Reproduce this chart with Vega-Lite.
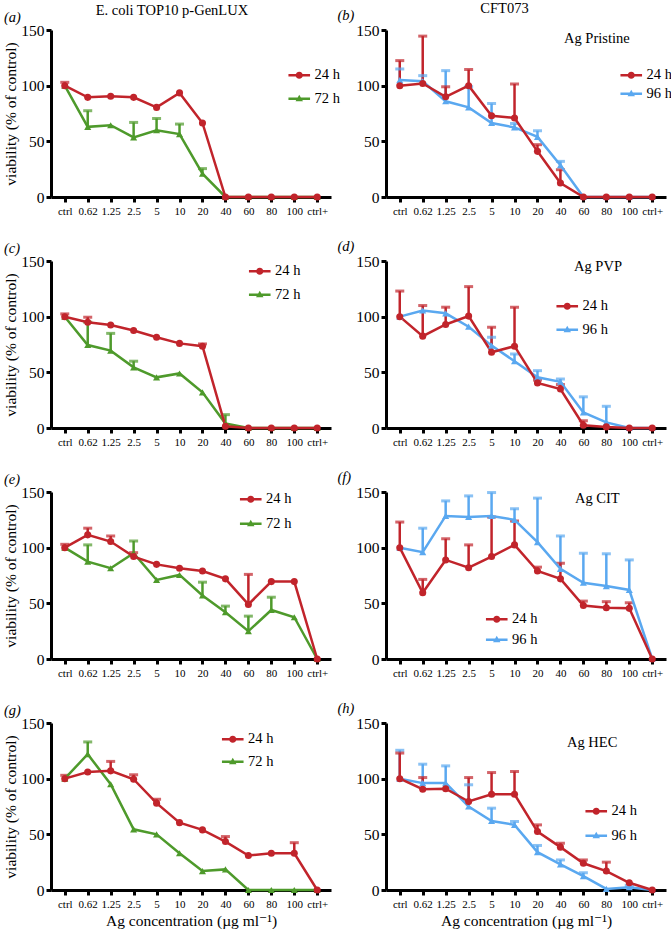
{
"$schema":"https://vega.github.io/schema/vega-lite/v6.json",
"padding":{"left":3,"top":0,"right":0,"bottom":0},
"datasets":{"d":[
{"p":"a","t":"72 h","c":"ctrl","v":100},{"p":"a","t":"72 h","c":"0.62","v":63,"e":77.5},{"p":"a","t":"72 h","c":"1.25","v":64.5},{"p":"a","t":"72 h","c":"2.5","v":53.5,"e":67},{"p":"a","t":"72 h","c":"5","v":60,"e":70.5},{"p":"a","t":"72 h","c":"10","v":56.5,"e":65.5},{"p":"a","t":"72 h","c":"20","v":21,"e":25.5},{"p":"a","t":"72 h","c":"40","v":0},{"p":"a","t":"72 h","c":"60","v":0},{"p":"a","t":"72 h","c":"80","v":0},{"p":"a","t":"72 h","c":"100","v":0},{"p":"a","t":"72 h","c":"ctrl+","v":0},
{"p":"a","t":"24 h","c":"ctrl","v":100,"e":103},{"p":"a","t":"24 h","c":"0.62","v":89.5},{"p":"a","t":"24 h","c":"1.25","v":90.5},{"p":"a","t":"24 h","c":"2.5","v":89.5},{"p":"a","t":"24 h","c":"5","v":80.5},{"p":"a","t":"24 h","c":"10","v":93.5},{"p":"a","t":"24 h","c":"20","v":66.5},{"p":"a","t":"24 h","c":"40","v":0},{"p":"a","t":"24 h","c":"60","v":0},{"p":"a","t":"24 h","c":"80","v":0},{"p":"a","t":"24 h","c":"100","v":0},{"p":"a","t":"24 h","c":"ctrl+","v":0},
{"p":"b","t":"96 h","c":"ctrl","v":105,"e":115},{"p":"b","t":"96 h","c":"0.62","v":104,"e":109},{"p":"b","t":"96 h","c":"1.25","v":86,"e":113.5},{"p":"b","t":"96 h","c":"2.5","v":80.5,"e":99},{"p":"b","t":"96 h","c":"5","v":66.5,"e":84},{"p":"b","t":"96 h","c":"10","v":62.5,"e":66},{"p":"b","t":"96 h","c":"20","v":54,"e":59.5},{"p":"b","t":"96 h","c":"40","v":28.5,"e":32},{"p":"b","t":"96 h","c":"60","v":0},{"p":"b","t":"96 h","c":"80","v":0},{"p":"b","t":"96 h","c":"100","v":0},{"p":"b","t":"96 h","c":"ctrl+","v":0},
{"p":"b","t":"24 h","c":"ctrl","v":100,"e":122.5},{"p":"b","t":"24 h","c":"0.62","v":102,"e":144.5},{"p":"b","t":"24 h","c":"1.25","v":90,"e":99},{"p":"b","t":"24 h","c":"2.5","v":100,"e":114.5},{"p":"b","t":"24 h","c":"5","v":73},{"p":"b","t":"24 h","c":"10","v":71,"e":101.5},{"p":"b","t":"24 h","c":"20","v":41,"e":47},{"p":"b","t":"24 h","c":"40","v":12.5,"e":24.5},{"p":"b","t":"24 h","c":"60","v":0},{"p":"b","t":"24 h","c":"80","v":0},{"p":"b","t":"24 h","c":"100","v":0},{"p":"b","t":"24 h","c":"ctrl+","v":0},
{"p":"c","t":"72 h","c":"ctrl","v":100},{"p":"c","t":"72 h","c":"0.62","v":74.5,"e":95},{"p":"c","t":"72 h","c":"1.25","v":69.5,"e":85},{"p":"c","t":"72 h","c":"2.5","v":54.5,"e":60},{"p":"c","t":"72 h","c":"5","v":45.5},{"p":"c","t":"72 h","c":"10","v":49},{"p":"c","t":"72 h","c":"20","v":32},{"p":"c","t":"72 h","c":"40","v":4,"e":12},{"p":"c","t":"72 h","c":"60","v":0},{"p":"c","t":"72 h","c":"80","v":0},{"p":"c","t":"72 h","c":"100","v":0},{"p":"c","t":"72 h","c":"ctrl+","v":0},
{"p":"c","t":"24 h","c":"ctrl","v":100,"e":102.5},{"p":"c","t":"24 h","c":"0.62","v":95,"e":99.5},{"p":"c","t":"24 h","c":"1.25","v":92.5},{"p":"c","t":"24 h","c":"2.5","v":87.5},{"p":"c","t":"24 h","c":"5","v":81.5},{"p":"c","t":"24 h","c":"10","v":76},{"p":"c","t":"24 h","c":"20","v":73.5,"e":75.5},{"p":"c","t":"24 h","c":"40","v":1.5},{"p":"c","t":"24 h","c":"60","v":0},{"p":"c","t":"24 h","c":"80","v":0},{"p":"c","t":"24 h","c":"100","v":0},{"p":"c","t":"24 h","c":"ctrl+","v":0},
{"p":"d","t":"96 h","c":"ctrl","v":100},{"p":"d","t":"96 h","c":"0.62","v":105.5},{"p":"d","t":"96 h","c":"1.25","v":103},{"p":"d","t":"96 h","c":"2.5","v":91},{"p":"d","t":"96 h","c":"5","v":74,"e":81.5},{"p":"d","t":"96 h","c":"10","v":60,"e":66.5},{"p":"d","t":"96 h","c":"20","v":45.5,"e":51.5},{"p":"d","t":"96 h","c":"40","v":41.5,"e":44},{"p":"d","t":"96 h","c":"60","v":14,"e":28},{"p":"d","t":"96 h","c":"80","v":5,"e":19.5},{"p":"d","t":"96 h","c":"100","v":0},{"p":"d","t":"96 h","c":"ctrl+","v":0},
{"p":"d","t":"24 h","c":"ctrl","v":100,"e":123},{"p":"d","t":"24 h","c":"0.62","v":82.5,"e":110},{"p":"d","t":"24 h","c":"1.25","v":93,"e":108.5},{"p":"d","t":"24 h","c":"2.5","v":100.5,"e":127},{"p":"d","t":"24 h","c":"5","v":68,"e":90.5},{"p":"d","t":"24 h","c":"10","v":73.5,"e":108.5},{"p":"d","t":"24 h","c":"20","v":40.5,"e":43},{"p":"d","t":"24 h","c":"40","v":35,"e":39},{"p":"d","t":"24 h","c":"60","v":2.5,"e":6.5},{"p":"d","t":"24 h","c":"80","v":1},{"p":"d","t":"24 h","c":"100","v":0},{"p":"d","t":"24 h","c":"ctrl+","v":0},
{"p":"e","t":"72 h","c":"ctrl","v":100},{"p":"e","t":"72 h","c":"0.62","v":87.5,"e":102.5},{"p":"e","t":"72 h","c":"1.25","v":81.5},{"p":"e","t":"72 h","c":"2.5","v":95,"e":106},{"p":"e","t":"72 h","c":"5","v":71},{"p":"e","t":"72 h","c":"10","v":75.5},{"p":"e","t":"72 h","c":"20","v":57,"e":69},{"p":"e","t":"72 h","c":"40","v":42,"e":47.5},{"p":"e","t":"72 h","c":"60","v":25,"e":38.5},{"p":"e","t":"72 h","c":"80","v":44,"e":55.5},{"p":"e","t":"72 h","c":"100","v":37.5},{"p":"e","t":"72 h","c":"ctrl+","v":0},
{"p":"e","t":"24 h","c":"ctrl","v":100,"e":103},{"p":"e","t":"24 h","c":"0.62","v":111.5,"e":117.5},{"p":"e","t":"24 h","c":"1.25","v":105.5,"e":110.5},{"p":"e","t":"24 h","c":"2.5","v":92,"e":95.5},{"p":"e","t":"24 h","c":"5","v":85},{"p":"e","t":"24 h","c":"10","v":81.5},{"p":"e","t":"24 h","c":"20","v":79},{"p":"e","t":"24 h","c":"40","v":72},{"p":"e","t":"24 h","c":"60","v":49,"e":76},{"p":"e","t":"24 h","c":"80","v":69.5},{"p":"e","t":"24 h","c":"100","v":69.5},{"p":"e","t":"24 h","c":"ctrl+","v":0},
{"p":"f","t":"96 h","c":"ctrl","v":100},{"p":"f","t":"96 h","c":"0.62","v":96,"e":117.5},{"p":"f","t":"96 h","c":"1.25","v":128.5,"e":142},{"p":"f","t":"96 h","c":"2.5","v":127.5,"e":146.5},{"p":"f","t":"96 h","c":"5","v":128.5,"e":149.5},{"p":"f","t":"96 h","c":"10","v":125,"e":135},{"p":"f","t":"96 h","c":"20","v":105,"e":144.5},{"p":"f","t":"96 h","c":"40","v":81,"e":110.5},{"p":"f","t":"96 h","c":"60","v":68.5,"e":95},{"p":"f","t":"96 h","c":"80","v":65.5,"e":94.5},{"p":"f","t":"96 h","c":"100","v":62,"e":89},{"p":"f","t":"96 h","c":"ctrl+","v":0},
{"p":"f","t":"24 h","c":"ctrl","v":100,"e":123},{"p":"f","t":"24 h","c":"0.62","v":59.5,"e":71.5},{"p":"f","t":"24 h","c":"1.25","v":89,"e":108},{"p":"f","t":"24 h","c":"2.5","v":82,"e":102.5},{"p":"f","t":"24 h","c":"5","v":92,"e":127.5},{"p":"f","t":"24 h","c":"10","v":102.5,"e":124},{"p":"f","t":"24 h","c":"20","v":79,"e":82.5},{"p":"f","t":"24 h","c":"40","v":72,"e":86},{"p":"f","t":"24 h","c":"60","v":48,"e":52},{"p":"f","t":"24 h","c":"80","v":46,"e":51.5},{"p":"f","t":"24 h","c":"100","v":45.5,"e":50.5},{"p":"f","t":"24 h","c":"ctrl+","v":0},
{"p":"g","t":"72 h","c":"ctrl","v":100},{"p":"g","t":"72 h","c":"0.62","v":122,"e":133},{"p":"g","t":"72 h","c":"1.25","v":95},{"p":"g","t":"72 h","c":"2.5","v":54.5},{"p":"g","t":"72 h","c":"5","v":50},{"p":"g","t":"72 h","c":"10","v":33},{"p":"g","t":"72 h","c":"20","v":17},{"p":"g","t":"72 h","c":"40","v":18.5},{"p":"g","t":"72 h","c":"60","v":0},{"p":"g","t":"72 h","c":"80","v":0},{"p":"g","t":"72 h","c":"100","v":0},{"p":"g","t":"72 h","c":"ctrl+","v":0},
{"p":"g","t":"24 h","c":"ctrl","v":100,"e":103},{"p":"g","t":"24 h","c":"0.62","v":106},{"p":"g","t":"24 h","c":"1.25","v":107,"e":115.5},{"p":"g","t":"24 h","c":"2.5","v":99.5,"e":103.5},{"p":"g","t":"24 h","c":"5","v":78,"e":81.5},{"p":"g","t":"24 h","c":"10","v":60.5},{"p":"g","t":"24 h","c":"20","v":54},{"p":"g","t":"24 h","c":"40","v":43.5,"e":48},{"p":"g","t":"24 h","c":"60","v":31},{"p":"g","t":"24 h","c":"80","v":33},{"p":"g","t":"24 h","c":"100","v":33,"e":42.5},{"p":"g","t":"24 h","c":"ctrl+","v":0},
{"p":"h","t":"96 h","c":"ctrl","v":100,"e":125.5},{"p":"h","t":"96 h","c":"0.62","v":96,"e":113},{"p":"h","t":"96 h","c":"1.25","v":96,"e":111.5},{"p":"h","t":"96 h","c":"2.5","v":75,"e":94.5},{"p":"h","t":"96 h","c":"5","v":62,"e":73.5},{"p":"h","t":"96 h","c":"10","v":58.5,"e":61.5},{"p":"h","t":"96 h","c":"20","v":34,"e":40},{"p":"h","t":"96 h","c":"40","v":23,"e":27},{"p":"h","t":"96 h","c":"60","v":12.5,"e":15.5},{"p":"h","t":"96 h","c":"80","v":1},{"p":"h","t":"96 h","c":"100","v":2.5,"e":4},{"p":"h","t":"96 h","c":"ctrl+","v":0},
{"p":"h","t":"24 h","c":"ctrl","v":100,"e":123},{"p":"h","t":"24 h","c":"0.62","v":90.5,"e":101},{"p":"h","t":"24 h","c":"1.25","v":91},{"p":"h","t":"24 h","c":"2.5","v":79.5,"e":101},{"p":"h","t":"24 h","c":"5","v":86,"e":105.5},{"p":"h","t":"24 h","c":"10","v":86,"e":106.5},{"p":"h","t":"24 h","c":"20","v":52.5,"e":58.5},{"p":"h","t":"24 h","c":"40","v":38.5,"e":42},{"p":"h","t":"24 h","c":"60","v":24,"e":27},{"p":"h","t":"24 h","c":"80","v":17,"e":25},{"p":"h","t":"24 h","c":"100","v":6.5},{"p":"h","t":"24 h","c":"ctrl+","v":0}
]},
"resolve":{"scale":{"color":"independent","x":"independent","y":"independent"},"legend":{"color":"independent"}},
"spacing":-3,
"hconcat":[
{"title":{"text":"E. coli TOP10 p-GenLUX","anchor":"middle","offset":-9},
 "bounds":"flush",
 "spacing":64,
 "resolve":{"scale":{"color":"independent","x":"independent","y":"independent"},"legend":{"color":"independent"}},
 "vconcat":[
 {"width":280,"height":167,"title":{"text":"(a)","anchor":"start","frame":"group","dx":-47,"fontStyle":"italic","offset":-2},
  "data":{"name":"d"},
  "encoding":{"x":{"field":"c","type":"ordinal","scale":{"type":"point","domain":["ctrl","0.62","1.25","2.5","5","10","20","40","60","80","100","ctrl+"],"padding":0.6},"axis":{"title":null}},
   "y":{"field":"v","type":"quantitative","scale":{"domain":[0,150]},"axis":{"values":[0,50,100,150]},"title":"viability (% of control)"},
   "color":{"field":"t","type":"nominal","scale":{"domain":["24 h","72 h"],"range":["#C1242B","#4E9A2B"]},
    "legend":{"orient":"none","legendX":241,"legendY":38,"title":null,"labelOffset":8,"rowPadding":8.5,"symbolSize":144,"symbolStrokeWidth":0,
     "encode":{"symbols":{"update":{"shape":{"signal":"datum.value == '24 h' ? 'M-1.8,-0.2L1.8,-0.2L1.8,0.2L-1.8,0.2Z M0.6,0A0.6,0.6 0 1,1 -0.6,0A0.6,0.6 0 1,1 0.6,0Z' : 'M-1.8,-0.2L1.8,-0.2L1.8,0.2L-1.8,0.2Z M0,-0.65L0.62,0.4L-0.62,0.4Z'"}}}}}}},
  "layer":[
   {"transform":[{"filter":"datum.p == 'a' && isValid(datum.e)"}],"mark":{"type":"rule","strokeWidth":2.5},"encoding":{"y2":{"field":"e"}}},
   {"transform":[{"filter":"datum.p == 'a' && isValid(datum.e)"}],"mark":{"type":"tick","orient":"horizontal","size":9,"thickness":3},"encoding":{"y":{"field":"e","type":"quantitative","title":"viability (% of control)"}}},
   {"transform":[{"filter":"datum.p == 'a'"}],"mark":{"type":"line","strokeWidth":2.5},"encoding":{"order":{"value":null}}},
   {"transform":[{"filter":"datum.p == 'a' && datum.t != '24 h'"}],"mark":{"type":"point","shape":"triangle-up","filled":true,"size":50,"opacity":1}},
   {"transform":[{"filter":"datum.p == 'a' && datum.t == '24 h'"}],"mark":{"type":"point","shape":"circle","filled":true,"size":50,"opacity":1}}
  ]},
 {"width":280,"height":167,"title":{"text":"(c)","anchor":"start","frame":"group","dx":-47,"fontStyle":"italic","offset":-2},
  "data":{"name":"d"},
  "encoding":{"x":{"field":"c","type":"ordinal","scale":{"type":"point","domain":["ctrl","0.62","1.25","2.5","5","10","20","40","60","80","100","ctrl+"],"padding":0.6},"axis":{"title":null}},
   "y":{"field":"v","type":"quantitative","scale":{"domain":[0,150]},"axis":{"values":[0,50,100,150]},"title":"viability (% of control)"},
   "color":{"field":"t","type":"nominal","scale":{"domain":["24 h","72 h"],"range":["#C1242B","#4E9A2B"]},
    "legend":{"orient":"none","legendX":201.5,"legendY":3,"title":null,"labelOffset":8,"rowPadding":8.5,"symbolSize":144,"symbolStrokeWidth":0,
     "encode":{"symbols":{"update":{"shape":{"signal":"datum.value == '24 h' ? 'M-1.8,-0.2L1.8,-0.2L1.8,0.2L-1.8,0.2Z M0.6,0A0.6,0.6 0 1,1 -0.6,0A0.6,0.6 0 1,1 0.6,0Z' : 'M-1.8,-0.2L1.8,-0.2L1.8,0.2L-1.8,0.2Z M0,-0.65L0.62,0.4L-0.62,0.4Z'"}}}}}}},
  "layer":[
   {"transform":[{"filter":"datum.p == 'c' && isValid(datum.e)"}],"mark":{"type":"rule","strokeWidth":2.5},"encoding":{"y2":{"field":"e"}}},
   {"transform":[{"filter":"datum.p == 'c' && isValid(datum.e)"}],"mark":{"type":"tick","orient":"horizontal","size":9,"thickness":3},"encoding":{"y":{"field":"e","type":"quantitative","title":"viability (% of control)"}}},
   {"transform":[{"filter":"datum.p == 'c'"}],"mark":{"type":"line","strokeWidth":2.5},"encoding":{"order":{"value":null}}},
   {"transform":[{"filter":"datum.p == 'c' && datum.t != '24 h'"}],"mark":{"type":"point","shape":"triangle-up","filled":true,"size":50,"opacity":1}},
   {"transform":[{"filter":"datum.p == 'c' && datum.t == '24 h'"}],"mark":{"type":"point","shape":"circle","filled":true,"size":50,"opacity":1}}
  ]},
 {"width":280,"height":167,"title":{"text":"(e)","anchor":"start","frame":"group","dx":-47,"fontStyle":"italic","offset":-2},
  "data":{"name":"d"},
  "encoding":{"x":{"field":"c","type":"ordinal","scale":{"type":"point","domain":["ctrl","0.62","1.25","2.5","5","10","20","40","60","80","100","ctrl+"],"padding":0.6},"axis":{"title":null}},
   "y":{"field":"v","type":"quantitative","scale":{"domain":[0,150]},"axis":{"values":[0,50,100,150]},"title":"viability (% of control)"},
   "color":{"field":"t","type":"nominal","scale":{"domain":["24 h","72 h"],"range":["#C1242B","#4E9A2B"]},
    "legend":{"orient":"none","legendX":192.5,"legendY":0,"title":null,"labelOffset":8,"rowPadding":9.5,"symbolSize":144,"symbolStrokeWidth":0,
     "encode":{"symbols":{"update":{"shape":{"signal":"datum.value == '24 h' ? 'M-1.8,-0.2L1.8,-0.2L1.8,0.2L-1.8,0.2Z M0.6,0A0.6,0.6 0 1,1 -0.6,0A0.6,0.6 0 1,1 0.6,0Z' : 'M-1.8,-0.2L1.8,-0.2L1.8,0.2L-1.8,0.2Z M0,-0.65L0.62,0.4L-0.62,0.4Z'"}}}}}}},
  "layer":[
   {"transform":[{"filter":"datum.p == 'e' && isValid(datum.e)"}],"mark":{"type":"rule","strokeWidth":2.5},"encoding":{"y2":{"field":"e"}}},
   {"transform":[{"filter":"datum.p == 'e' && isValid(datum.e)"}],"mark":{"type":"tick","orient":"horizontal","size":9,"thickness":3},"encoding":{"y":{"field":"e","type":"quantitative","title":"viability (% of control)"}}},
   {"transform":[{"filter":"datum.p == 'e'"}],"mark":{"type":"line","strokeWidth":2.5},"encoding":{"order":{"value":null}}},
   {"transform":[{"filter":"datum.p == 'e' && datum.t != '24 h'"}],"mark":{"type":"point","shape":"triangle-up","filled":true,"size":50,"opacity":1}},
   {"transform":[{"filter":"datum.p == 'e' && datum.t == '24 h'"}],"mark":{"type":"point","shape":"circle","filled":true,"size":50,"opacity":1}}
  ]},
 {"width":280,"height":167,"title":{"text":"(g)","anchor":"start","frame":"group","dx":-47,"fontStyle":"italic","offset":-2},
  "data":{"name":"d"},
  "encoding":{"x":{"field":"c","type":"ordinal","scale":{"type":"point","domain":["ctrl","0.62","1.25","2.5","5","10","20","40","60","80","100","ctrl+"],"padding":0.6},"axis":{"title":"Ag concentration (µg ml⁻¹)"}},
   "y":{"field":"v","type":"quantitative","scale":{"domain":[0,150]},"axis":{"values":[0,50,100,150]},"title":"viability (% of control)"},
   "color":{"field":"t","type":"nominal","scale":{"domain":["24 h","72 h"],"range":["#C1242B","#4E9A2B"]},
    "legend":{"orient":"none","legendX":174.5,"legendY":9,"title":null,"labelOffset":8,"rowPadding":7.5,"symbolSize":144,"symbolStrokeWidth":0,
     "encode":{"symbols":{"update":{"shape":{"signal":"datum.value == '24 h' ? 'M-1.8,-0.2L1.8,-0.2L1.8,0.2L-1.8,0.2Z M0.6,0A0.6,0.6 0 1,1 -0.6,0A0.6,0.6 0 1,1 0.6,0Z' : 'M-1.8,-0.2L1.8,-0.2L1.8,0.2L-1.8,0.2Z M0,-0.65L0.62,0.4L-0.62,0.4Z'"}}}}}}},
  "layer":[
   {"transform":[{"filter":"datum.p == 'g' && isValid(datum.e)"}],"mark":{"type":"rule","strokeWidth":2.5},"encoding":{"y2":{"field":"e"}}},
   {"transform":[{"filter":"datum.p == 'g' && isValid(datum.e)"}],"mark":{"type":"tick","orient":"horizontal","size":9,"thickness":3},"encoding":{"y":{"field":"e","type":"quantitative","title":"viability (% of control)"}}},
   {"transform":[{"filter":"datum.p == 'g'"}],"mark":{"type":"line","strokeWidth":2.5},"encoding":{"order":{"value":null}}},
   {"transform":[{"filter":"datum.p == 'g' && datum.t != '24 h'"}],"mark":{"type":"point","shape":"triangle-up","filled":true,"size":50,"opacity":1}},
   {"transform":[{"filter":"datum.p == 'g' && datum.t == '24 h'"}],"mark":{"type":"point","shape":"circle","filled":true,"size":50,"opacity":1}}
  ]}
 ]},
{"title":{"text":"CFT073","anchor":"middle","offset":-9},
 "bounds":"flush",
 "spacing":64,
 "resolve":{"scale":{"color":"independent","x":"independent","y":"independent"},"legend":{"color":"independent"}},
 "vconcat":[
 {"width":280,"height":167,"title":{"text":"Ag Pristine","anchor":"start","frame":"group","dx":178,"dy":39,"offset":0},
  "data":{"name":"d"},
  "encoding":{"x":{"field":"c","type":"ordinal","scale":{"type":"point","domain":["ctrl","0.62","1.25","2.5","5","10","20","40","60","80","100","ctrl+"],"padding":0.6},"axis":{"title":null}},
   "y":{"field":"v","type":"quantitative","scale":{"domain":[0,150]},"axis":{"values":[0,50,100,150],"titleAngle":0,"titleX":-49,"titleY":-11,"titleAlign":"left","titleBaseline":"alphabetic","titleFontStyle":"italic","titleFontSize":14.5},"title":"(b)"},
   "color":{"field":"t","type":"nominal","scale":{"domain":["24 h","96 h"],"range":["#C1242B","#5AA8F0"]},
    "legend":{"orient":"none","legendX":238,"legendY":38,"title":null,"labelOffset":8,"rowPadding":3.5,"symbolSize":144,"symbolStrokeWidth":0,
     "encode":{"symbols":{"update":{"shape":{"signal":"datum.value == '24 h' ? 'M-1.8,-0.2L1.8,-0.2L1.8,0.2L-1.8,0.2Z M0.6,0A0.6,0.6 0 1,1 -0.6,0A0.6,0.6 0 1,1 0.6,0Z' : 'M-1.8,-0.2L1.8,-0.2L1.8,0.2L-1.8,0.2Z M0,-0.65L0.62,0.4L-0.62,0.4Z'"}}}}}}},
  "layer":[
   {"transform":[{"filter":"datum.p == 'b' && isValid(datum.e)"}],"mark":{"type":"rule","strokeWidth":2.5},"encoding":{"y2":{"field":"e"}}},
   {"transform":[{"filter":"datum.p == 'b' && isValid(datum.e)"}],"mark":{"type":"tick","orient":"horizontal","size":9,"thickness":3},"encoding":{"y":{"field":"e","type":"quantitative","title":"(b)"}}},
   {"transform":[{"filter":"datum.p == 'b'"}],"mark":{"type":"line","strokeWidth":2.5},"encoding":{"order":{"value":null}}},
   {"transform":[{"filter":"datum.p == 'b' && datum.t != '24 h'"}],"mark":{"type":"point","shape":"triangle-up","filled":true,"size":50,"opacity":1}},
   {"transform":[{"filter":"datum.p == 'b' && datum.t == '24 h'"}],"mark":{"type":"point","shape":"circle","filled":true,"size":50,"opacity":1}}
  ]},
 {"width":280,"height":167,"title":{"text":"Ag PVP","anchor":"start","frame":"group","dx":188,"dy":36,"offset":0},
  "data":{"name":"d"},
  "encoding":{"x":{"field":"c","type":"ordinal","scale":{"type":"point","domain":["ctrl","0.62","1.25","2.5","5","10","20","40","60","80","100","ctrl+"],"padding":0.6},"axis":{"title":null}},
   "y":{"field":"v","type":"quantitative","scale":{"domain":[0,150]},"axis":{"values":[0,50,100,150],"titleAngle":0,"titleX":-49,"titleY":-11,"titleAlign":"left","titleBaseline":"alphabetic","titleFontStyle":"italic","titleFontSize":14.5},"title":"(d)"},
   "color":{"field":"t","type":"nominal","scale":{"domain":["24 h","96 h"],"range":["#C1242B","#5AA8F0"]},
    "legend":{"orient":"none","legendX":174,"legendY":38,"title":null,"labelOffset":8,"rowPadding":8.5,"symbolSize":144,"symbolStrokeWidth":0,
     "encode":{"symbols":{"update":{"shape":{"signal":"datum.value == '24 h' ? 'M-1.8,-0.2L1.8,-0.2L1.8,0.2L-1.8,0.2Z M0.6,0A0.6,0.6 0 1,1 -0.6,0A0.6,0.6 0 1,1 0.6,0Z' : 'M-1.8,-0.2L1.8,-0.2L1.8,0.2L-1.8,0.2Z M0,-0.65L0.62,0.4L-0.62,0.4Z'"}}}}}}},
  "layer":[
   {"transform":[{"filter":"datum.p == 'd' && isValid(datum.e)"}],"mark":{"type":"rule","strokeWidth":2.5},"encoding":{"y2":{"field":"e"}}},
   {"transform":[{"filter":"datum.p == 'd' && isValid(datum.e)"}],"mark":{"type":"tick","orient":"horizontal","size":9,"thickness":3},"encoding":{"y":{"field":"e","type":"quantitative","title":"(d)"}}},
   {"transform":[{"filter":"datum.p == 'd'"}],"mark":{"type":"line","strokeWidth":2.5},"encoding":{"order":{"value":null}}},
   {"transform":[{"filter":"datum.p == 'd' && datum.t != '24 h'"}],"mark":{"type":"point","shape":"triangle-up","filled":true,"size":50,"opacity":1}},
   {"transform":[{"filter":"datum.p == 'd' && datum.t == '24 h'"}],"mark":{"type":"point","shape":"circle","filled":true,"size":50,"opacity":1}}
  ]},
 {"width":280,"height":167,"title":{"text":"Ag CIT","anchor":"start","frame":"group","dx":189,"dy":37,"offset":0},
  "data":{"name":"d"},
  "encoding":{"x":{"field":"c","type":"ordinal","scale":{"type":"point","domain":["ctrl","0.62","1.25","2.5","5","10","20","40","60","80","100","ctrl+"],"padding":0.6},"axis":{"title":null}},
   "y":{"field":"v","type":"quantitative","scale":{"domain":[0,150]},"axis":{"values":[0,50,100,150],"titleAngle":0,"titleX":-49,"titleY":-11,"titleAlign":"left","titleBaseline":"alphabetic","titleFontStyle":"italic","titleFontSize":14.5},"title":"(f)"},
   "color":{"field":"t","type":"nominal","scale":{"domain":["24 h","96 h"],"range":["#C1242B","#5AA8F0"]},
    "legend":{"orient":"none","legendX":103.5,"legendY":120,"title":null,"labelOffset":8,"rowPadding":5.5,"symbolSize":144,"symbolStrokeWidth":0,
     "encode":{"symbols":{"update":{"shape":{"signal":"datum.value == '24 h' ? 'M-1.8,-0.2L1.8,-0.2L1.8,0.2L-1.8,0.2Z M0.6,0A0.6,0.6 0 1,1 -0.6,0A0.6,0.6 0 1,1 0.6,0Z' : 'M-1.8,-0.2L1.8,-0.2L1.8,0.2L-1.8,0.2Z M0,-0.65L0.62,0.4L-0.62,0.4Z'"}}}}}}},
  "layer":[
   {"transform":[{"filter":"datum.p == 'f' && isValid(datum.e)"}],"mark":{"type":"rule","strokeWidth":2.5},"encoding":{"y2":{"field":"e"}}},
   {"transform":[{"filter":"datum.p == 'f' && isValid(datum.e)"}],"mark":{"type":"tick","orient":"horizontal","size":9,"thickness":3},"encoding":{"y":{"field":"e","type":"quantitative","title":"(f)"}}},
   {"transform":[{"filter":"datum.p == 'f'"}],"mark":{"type":"line","strokeWidth":2.5},"encoding":{"order":{"value":null}}},
   {"transform":[{"filter":"datum.p == 'f' && datum.t != '24 h'"}],"mark":{"type":"point","shape":"triangle-up","filled":true,"size":50,"opacity":1}},
   {"transform":[{"filter":"datum.p == 'f' && datum.t == '24 h'"}],"mark":{"type":"point","shape":"circle","filled":true,"size":50,"opacity":1}}
  ]},
 {"width":280,"height":167,"title":{"text":"Ag HEC","anchor":"start","frame":"group","dx":181,"dy":50,"offset":0},
  "data":{"name":"d"},
  "encoding":{"x":{"field":"c","type":"ordinal","scale":{"type":"point","domain":["ctrl","0.62","1.25","2.5","5","10","20","40","60","80","100","ctrl+"],"padding":0.6},"axis":{"title":"Ag concentration (µg ml⁻¹)"}},
   "y":{"field":"v","type":"quantitative","scale":{"domain":[0,150]},"axis":{"values":[0,50,100,150],"titleAngle":0,"titleX":-49,"titleY":-11,"titleAlign":"left","titleBaseline":"alphabetic","titleFontStyle":"italic","titleFontSize":14.5},"title":"(h)"},
   "color":{"field":"t","type":"nominal","scale":{"domain":["24 h","96 h"],"range":["#C1242B","#5AA8F0"]},
    "legend":{"orient":"none","legendX":203,"legendY":81,"title":null,"labelOffset":8,"rowPadding":9.5,"symbolSize":144,"symbolStrokeWidth":0,
     "encode":{"symbols":{"update":{"shape":{"signal":"datum.value == '24 h' ? 'M-1.8,-0.2L1.8,-0.2L1.8,0.2L-1.8,0.2Z M0.6,0A0.6,0.6 0 1,1 -0.6,0A0.6,0.6 0 1,1 0.6,0Z' : 'M-1.8,-0.2L1.8,-0.2L1.8,0.2L-1.8,0.2Z M0,-0.65L0.62,0.4L-0.62,0.4Z'"}}}}}}},
  "layer":[
   {"transform":[{"filter":"datum.p == 'h' && isValid(datum.e)"}],"mark":{"type":"rule","strokeWidth":2.5},"encoding":{"y2":{"field":"e"}}},
   {"transform":[{"filter":"datum.p == 'h' && isValid(datum.e)"}],"mark":{"type":"tick","orient":"horizontal","size":9,"thickness":3},"encoding":{"y":{"field":"e","type":"quantitative","title":"(h)"}}},
   {"transform":[{"filter":"datum.p == 'h'"}],"mark":{"type":"line","strokeWidth":2.5},"encoding":{"order":{"value":null}}},
   {"transform":[{"filter":"datum.p == 'h' && datum.t != '24 h'"}],"mark":{"type":"point","shape":"triangle-up","filled":true,"size":50,"opacity":1}},
   {"transform":[{"filter":"datum.p == 'h' && datum.t == '24 h'"}],"mark":{"type":"point","shape":"circle","filled":true,"size":50,"opacity":1}}
  ]}
 ]}
],
"config":{
 "font":"Liberation Serif, Times New Roman, DejaVu Serif, serif",
 "view":{"stroke":null},
 "axis":{"domainColor":"black","domainWidth":3,"tickColor":"black","tickWidth":3,"tickSize":5,"labelColor":"black","titleColor":"black","titleFontWeight":"normal","grid":false,"labelFont":"Liberation Serif, Times New Roman, DejaVu Serif, serif","titleFont":"Liberation Serif, Times New Roman, DejaVu Serif, serif"},
 "axisX":{"labelFontSize":11,"labelAngle":0,"labelPadding":3,"titleFontSize":15.5,"titlePadding":4,"labelOverlap":false},
 "axisY":{"labelFontSize":15.5,"titleFontSize":15.5,"labelPadding":2,"titlePadding":2},
 "title":{"font":"Liberation Serif, Times New Roman, DejaVu Serif, serif","fontSize":14.5,"fontWeight":"normal","color":"black"},
 "legend":{"labelFont":"Liberation Serif, Times New Roman, DejaVu Serif, serif","labelColor":"black","labelFontSize":14.5}
}
}
